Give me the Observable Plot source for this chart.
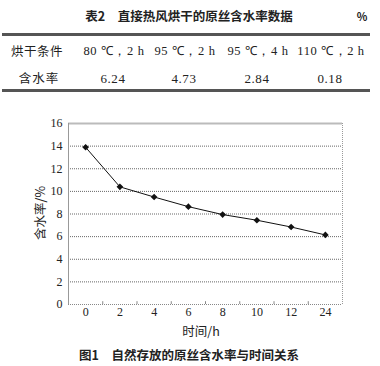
<!DOCTYPE html>
<html>
<head>
<meta charset="utf-8">
<script src="https://cdn.jsdelivr.net/npm/d3@7"></script>
<script src="https://cdn.jsdelivr.net/npm/@observablehq/plot@0.6"></script>
<style>
  html, body { margin: 0; padding: 0; background: #fff; }
  #page { position: relative; width: 380px; height: 366px; overflow: hidden; background: #fff; color: #222;
          font-family: "Noto Sans CJK SC", sans-serif; }
  .t { position: absolute; white-space: nowrap; line-height: 1; transform: translate(-50%, -50%); }
  .rule { position: absolute; left: 2px; width: 368px; height: 3px; background: #555; }
  .num { font-family: "Liberation Serif", serif; font-size: 13px; letter-spacing: 0.6px; }
  #chart { position: absolute; left: 0; top: 108px; }
</style>
</head>
<body>
<div id="page">
  <div id="chart"></div>
</div>
<script>
// ---- table data ----
const tableTitle = "表2　直接热风烘干的原丝含水率数据";
const tableUnit = "%";
const rowHeaders = ["烘干条件", "含水率"];
const dryingConditions = ["80 ℃，2 h", "95 ℃，2 h", "95 ℃，4 h", "110 ℃，2 h"];
const dryingMoisture = ["6.24", "4.73", "2.84", "0.18"];

// ---- chart data ----
const timeLabels = ["0", "2", "4", "6", "8", "10", "12", "24"];
const moisture = [13.9, 10.4, 9.5, 8.65, 7.95, 7.45, 6.85, 6.15];
const yTicks = [0, 2, 4, 6, 8, 10, 12, 14, 16];
const xAxisLabel = "时间/h";
const yAxisLabel = "含水率/%";
const caption = "图1　自然存放的原丝含水率与时间关系";

const page = document.getElementById("page");
function addText(txt, x, y, css, cls) {
  const d = document.createElement("div");
  d.className = "t" + (cls ? " " + cls : "");
  d.textContent = txt;
  d.style.left = x + "px";
  d.style.top = y + "px";
  Object.assign(d.style, css || {});
  page.appendChild(d);
  return d;
}
// table
addText(tableTitle, 189, 16, {fontSize: "12.5px", fontWeight: "600"});
addText(tableUnit, 362, 16, {fontSize: "11px", fontWeight: "600"});
[33, 89].forEach(y => {
  const r = document.createElement("div");
  r.className = "rule";
  r.style.top = y + "px";
  page.appendChild(r);
});
addText(rowHeaders[0], 37, 51, {fontSize: "12.5px", letterSpacing: "0.5px"});
addText(rowHeaders[1], 39, 78, {fontSize: "12.5px", letterSpacing: "1px"});
const colX = [114, 185, 258, 331];
dryingConditions.forEach((c, i) => addText(c, colX[i], 51, {fontSize: "12.5px"}, "num"));
dryingMoisture.forEach((c, i) => addText(c, colX[i] - 1, 78, {}, "num"));

// axis labels & caption
addText(xAxisLabel, 201, 331, {fontSize: "12.5px"});
addText(yAxisLabel, 40, 213, {fontSize: "12.5px", transform: "translate(-50%, -50%) rotate(-90deg)"});
addText(caption, 189, 355, {fontSize: "12.5px", fontWeight: "bold"});

// chart
const data = timeLabels.map((t, i) => ({i, t, v: moisture[i]}));
const chart = Plot.plot({
  width: 380,
  height: 232,
  marginLeft: 68,
  marginRight: 38,
  marginTop: 15,
  marginBottom: 36,
  style: {fontFamily: "Liberation Serif, serif", fontSize: "12px", color: "#222", background: "transparent"},
  x: {domain: [-0.5, timeLabels.length - 0.5]},
  y: {domain: [0, 16]},
  marks: [
    Plot.gridY(yTicks.slice(1, -1), {stroke: "#666", strokeOpacity: 1, strokeDasharray: "1,1"}),
    Plot.ruleY([16], {stroke: "#bbb", strokeWidth: 2}),
    Plot.ruleY([0], {stroke: "#888", strokeDasharray: "1,1"}),
    Plot.ruleX([timeLabels.length - 0.5], {stroke: "#999", strokeDasharray: "1,1"}),
    Plot.ruleX([-0.5], {stroke: "#999"}),
    Plot.ruleX(d3.range(0.5, timeLabels.length - 1, 1), {y1: 0, y2: 0.25, stroke: "#888"}),
    Plot.axisX(d3.range(timeLabels.length), {tickSize: 0, tickPadding: 3, tickFormat: i => timeLabels[i], label: null}),
    Plot.axisY(yTicks, {tickSize: 0, tickPadding: 6, label: null}),
    Plot.line(data, {x: "i", y: "v", stroke: "#111", strokeWidth: 1}),
    Plot.dot(data, {x: "i", y: "v", symbol: "diamond2", r: 3, fill: "#111", stroke: "none"})
  ]
});
document.getElementById("chart").appendChild(chart);
</script>
</body>
</html>
